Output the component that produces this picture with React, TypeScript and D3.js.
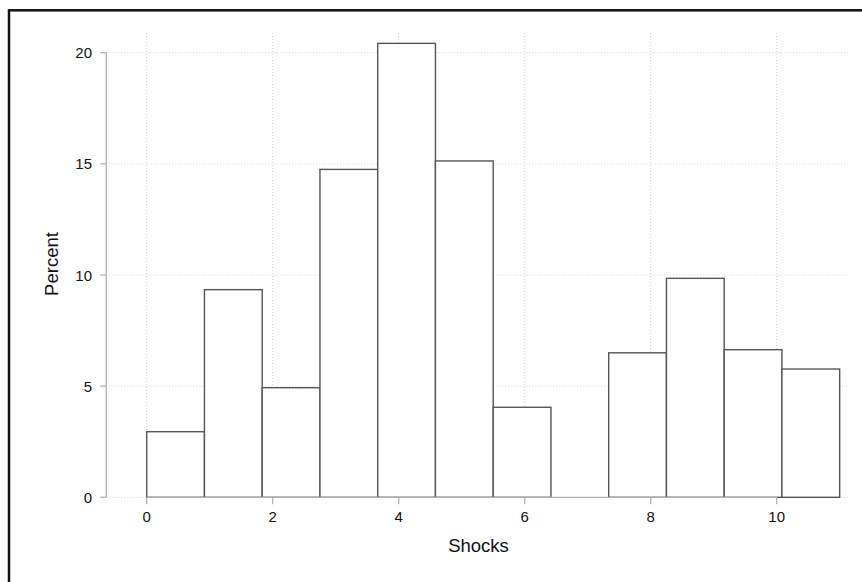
import React from "react";
import * as d3 from "d3";

// Histogram of shocks: 12 equal-width bins from 0 to 11
const binStart = 0;
const binEnd = 11;
const percents = [2.95, 9.34, 4.93, 14.75, 20.42, 15.13, 4.05, 0, 6.5, 9.85, 6.64, 5.77];
const xTicks = [0, 2, 4, 6, 8, 10];
const yTicks = [0, 5, 10, 15, 20];
const xTitle = "Shocks";
const yTitle = "Percent";

const W = 862;
const H = 582;
const FONT = "'Liberation Sans', Arial, Helvetica, sans-serif";

export default function App() {
  const x = d3.scaleLinear().domain([0, 10]).range([146.7, 776.7]);
  const y = d3.scaleLinear().domain([0, 20]).range([497.3, 52.7]);
  const plotLeft = 106.3;
  const plotRight = 850;
  const plotTop = 33;

  const binW = (binEnd - binStart) / percents.length;
  const bins = percents.map((p, i) => ({
    x0: binStart + i * binW,
    x1: binStart + (i + 1) * binW,
    v: p,
  }));

  return (
    <svg
      width={W}
      height={H}
      style={{ position: "absolute", left: 0, top: 0, background: "#fff" }}
    >
      <rect x={0} y={0} width={W} height={H} fill="#fff" />
      {/* outer frame */}
      <rect x={9} y={10.3} width={W + 20} height={H + 20} fill="none" stroke="#111" strokeWidth={2.5} />

      {/* gridlines */}
      {yTicks.map((t) => (
        <line
          key={"gy" + t}
          x1={plotLeft}
          x2={plotRight}
          y1={y(t)}
          y2={y(t)}
          stroke="#cfcfcf"
          strokeWidth={1}
          strokeDasharray="1,2"
        />
      ))}
      {xTicks.map((t) => (
        <line
          key={"gx" + t}
          x1={x(t)}
          x2={x(t)}
          y1={plotTop}
          y2={y(0)}
          stroke="#cfcfcf"
          strokeWidth={1}
          strokeDasharray="1,2"
        />
      ))}

      {/* bars */}
      {bins
        .filter((b) => b.v > 0)
        .map((b, i) => (
          <rect
            key={"b" + i}
            x={x(b.x0)}
            y={y(b.v)}
            width={x(b.x1) - x(b.x0)}
            height={y(0) - y(b.v)}
            fill="#fff"
            stroke="#555"
            strokeWidth={1.4}
          />
        ))}

      {/* y axis */}
      <line x1={plotLeft} x2={plotLeft} y1={y(0)} y2={y(20)} stroke="#b3b3b3" strokeWidth={1.3} />
      {yTicks.map((t) => (
        <g key={"ty" + t}>
          <line x1={plotLeft - 6} x2={plotLeft} y1={y(t)} y2={y(t)} stroke="#b3b3b3" strokeWidth={1.3} />
          <text
            x={92}
            y={y(t)}
            textAnchor="end"
            dominantBaseline="central"
            fontFamily={FONT}
            fontSize={15}
            fill="#111"
          >
            {t}
          </text>
        </g>
      ))}

      {/* x axis */}
      <line x1={x(0)} x2={x(10)} y1={y(0)} y2={y(0)} stroke="#b3b3b3" strokeWidth={1.3} />
      {xTicks.map((t) => (
        <g key={"tx" + t}>
          <line x1={x(t)} x2={x(t)} y1={y(0)} y2={y(0) + 7} stroke="#b3b3b3" strokeWidth={1.3} />
          <text
            x={x(t)}
            y={522}
            textAnchor="middle"
            fontFamily={FONT}
            fontSize={15}
            fill="#111"
          >
            {t}
          </text>
        </g>
      ))}

      {/* axis titles */}
      <text
        x={478.5}
        y={552}
        textAnchor="middle"
        fontFamily={FONT}
        fontSize={18.5}
        fill="#111"
      >
        {xTitle}
      </text>
      <text
        transform={`translate(57.5, 264) rotate(-90)`}
        textAnchor="middle"
        fontFamily={FONT}
        fontSize={18.5}
        fill="#111"
      >
        {yTitle}
      </text>
    </svg>
  );
}
